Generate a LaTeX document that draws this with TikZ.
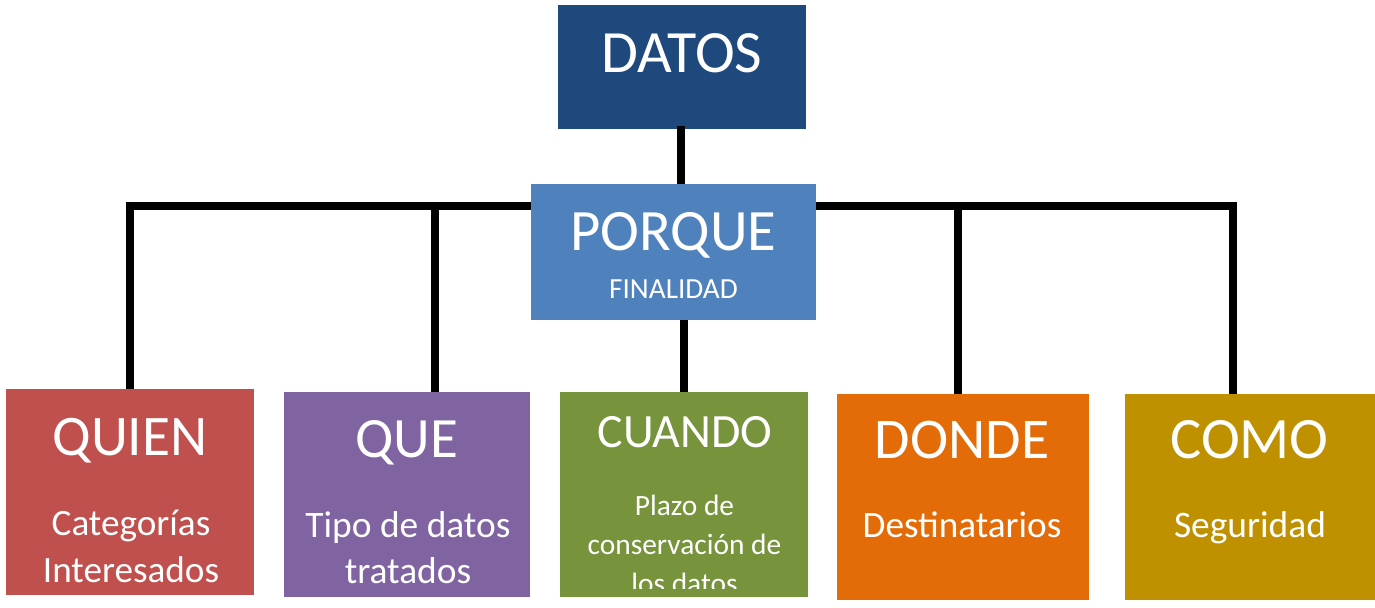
\documentclass[tikz,border=0pt]{standalone}
\usepackage{fontspec}
\setmainfont{Carlito}
\usepackage{xcolor}
\usetikzlibrary{calc}
\definecolor{azulosc}{HTML}{1F497D}
\definecolor{azul}{HTML}{4F81BD}
\definecolor{rojo}{HTML}{C0504D}
\definecolor{morado}{HTML}{8064A2}
\definecolor{verde}{HTML}{77933C}
\definecolor{naranja}{HTML}{E36C09}
\definecolor{ocre}{HTML}{BF9000}
\tikzstyle{caja} = [rectangle, inner sep=0pt, minimum width=124pt, minimum height=103pt, draw=none]
\tikzstyle{texto} = [text=white, inner sep=0pt, anchor=base, align=center]
\tikzstyle{linea} = [line width=4pt, black]

\begin{document}
\begin{tikzpicture}[x=0.5pt, y=-0.5pt]
		\useasboundingbox (0,0) rectangle (1375,607);
		
		\node (Datos) [caja, fill=azulosc, minimum height=62pt] at (682,67) {};
		\node (Porque) [caja, fill=azul, minimum width=142.5pt, minimum height=68pt] at (673.5,252) {};
		\node (Quien) [caja, fill=rojo] at (130,492) {};
		\node (Que) [caja, fill=morado, minimum width=123pt, minimum height=102.5pt] at (407,494.5) {};
		\node (Cuando) [caja, fill=verde, minimum height=102.5pt] at (684,494.5) {};
		\node (Donde) [caja, fill=naranja, minimum width=126pt] at (963,497) {};
		\node (Como) [caja, fill=ocre, minimum width=125pt] at (1250,497) {};
		
		\node (tDatos) [texto, font=\fontsize{30}{36}\selectfont] at (682,72) {DATOS};
		\node (tPorque) [texto, font=\fontsize{29.3}{35}\selectfont] at (673.5,250) {PORQUE};
		\node (tFin) [texto, font=\fontsize{14.6}{17}\selectfont] at (673.5,298) {FINALIDAD};
		\node (tQuien) [texto, font=\fontsize{28.7}{34}\selectfont] at (130,455) {QUIEN};
		\node (sQuien) [texto, font=\fontsize{18.6}{23.5}\selectfont] at (131,582) {Categorías\\Interesados};
		\node (tQue) [texto, font=\fontsize{28.5}{34}\selectfont] at (407,457) {QUE};
		\node (sQue) [texto, font=\fontsize{18.7}{23}\selectfont] at (408,583) {Tipo de datos\\tratados};
		\node (tCuando) [texto, font=\fontsize{23.9}{28}\selectfont] at (685,447) {CUANDO};
		\begin{scope}
			\clip (Cuando.north west) rectangle ($(Cuando.south east)+(0,-9)$);
			\node (sCuando) [texto, font=\fontsize{14.7}{19.5}\selectfont] at (684.5,593) {Plazo de\\conservación de\\los datos};
		\end{scope}
		\node (tDonde) [texto, font=\fontsize{28.8}{34}\selectfont] at (962,458) {DONDE};
		\node (sDonde) [texto, font=\fontsize{18.6}{22}\selectfont] at (962,537) {Destinatarios};
		\node (tComo) [texto, font=\fontsize{29.3}{35}\selectfont] at (1249.5,458) {COMO};
		\node (sComo) [texto, font=\fontsize{18.7}{22}\selectfont] at (1250,537) {Seguridad};
		
		\coordinate (busL) at ($(Porque.west)+(0,-46)$);
		\coordinate (busR) at ($(Porque.east)+(0,-46)$);
		\coordinate (datosBajo) at ($(Datos.south)+(-1,-3)$);
		\coordinate (queTop) at ($(Que.north)+(28,0)$);
		\coordinate (dondeTop) at ($(Donde.north)+(-5,0)$);
		\coordinate (comoTop) at ($(Como.north)+(-17,0)$);
		
		\draw [linea] (datosBajo) -- (datosBajo |- Porque.north);
		\draw [linea] (Cuando.north) -- (Cuando.north |- Porque.south);
		\draw [linea] (busL) -| (Quien.north);
		\draw [linea] (queTop) -- (queTop |- busL);
		\draw [linea] (busR) -| (comoTop);
		\draw [linea] (dondeTop) -- (dondeTop |- busR);
	\end{tikzpicture}
\end{document}
